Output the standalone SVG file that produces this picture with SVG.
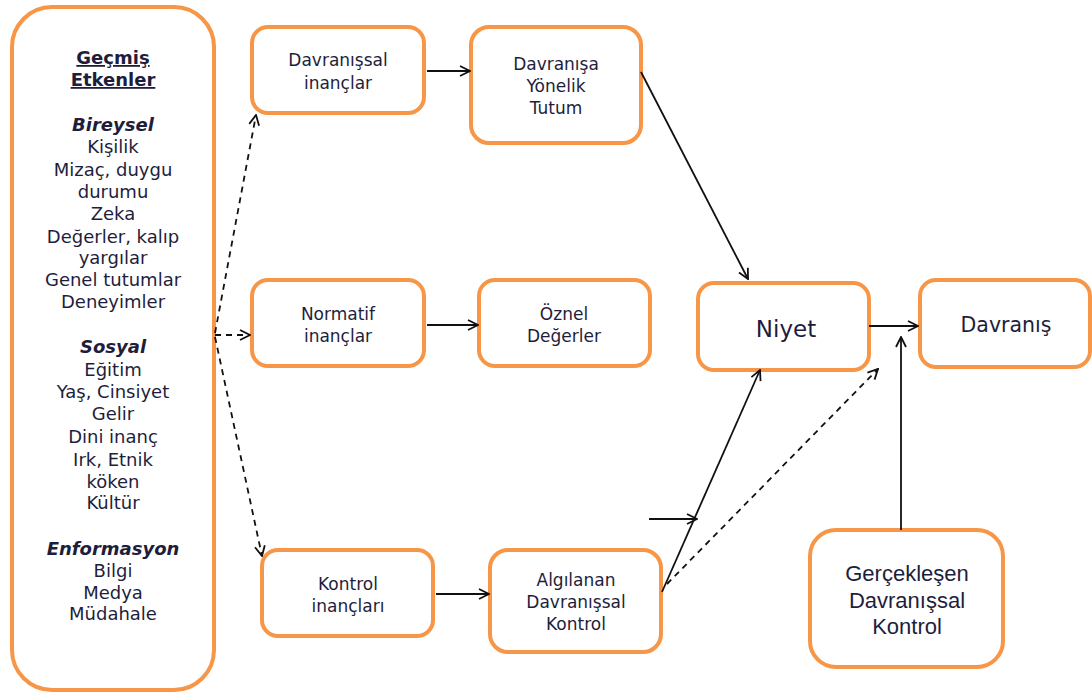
<svg xmlns="http://www.w3.org/2000/svg" width="1092" height="693" viewBox="0 0 1092 693">
<defs>
<style>
.box{fill:#fff;stroke:#F79646;stroke-width:4}
.t{font-family:"DejaVu Sans",Verdana,sans-serif;font-size:17px;fill:#1e1e3c;text-anchor:middle}
.l{font-family:"DejaVu Sans",Verdana,sans-serif;font-size:18px;fill:#1e1e3c;text-anchor:middle}
.h{font-weight:bold;text-decoration:underline}
.i{font-weight:bold;font-style:italic}
.a{font-family:"Liberation Sans",Arial,sans-serif;font-size:22px;fill:#1e1e3c;text-anchor:middle}
.c{stroke:#111;stroke-width:1.8;fill:none;marker-end:url(#ar)}
.d{stroke:#111;stroke-width:1.8;fill:none;stroke-dasharray:6,5;marker-end:url(#ar)}
</style>
<marker id="ar" markerWidth="12" markerHeight="12" refX="11" refY="6" orient="auto" markerUnits="userSpaceOnUse"><path d="M1,1 L11,6 L1,11" fill="none" stroke="#111" stroke-width="1.8"/></marker>
</defs>
<rect width="1092" height="693" fill="#fff"/>
<g id="gecmis">
<rect class="box" x="12" y="7" width="202" height="683" rx="40"/>
<text class="l h" x="113" y="64">Geçmiş</text>
<text class="l h" x="113" y="86">Etkenler</text>
<text class="l i" x="113" y="131">Bireysel</text>
<text class="l" x="113" y="153">Kişilik</text>
<text class="l" x="113" y="176">Mizaç, duygu</text>
<text class="l" x="113" y="198">durumu</text>
<text class="l" x="113" y="220">Zeka</text>
<text class="l" x="113" y="243">Değerler, kalıp</text>
<text class="l" x="113" y="264">yargılar</text>
<text class="l" x="113" y="286">Genel tutumlar</text>
<text class="l" x="113" y="308">Deneyimler</text>
<text class="l i" x="113" y="353">Sosyal</text>
<text class="l" x="113" y="376">Eğitim</text>
<text class="l" x="113" y="398">Yaş, Cinsiyet</text>
<text class="l" x="113" y="420">Gelir</text>
<text class="l" x="113" y="443">Dini inanç</text>
<text class="l" x="113" y="466">Irk, Etnik</text>
<text class="l" x="113" y="488">köken</text>
<text class="l" x="113" y="509">Kültür</text>
<text class="l i" x="113" y="555">Enformasyon</text>
<text class="l" x="113" y="577">Bilgi</text>
<text class="l" x="113" y="599">Medya</text>
<text class="l" x="113" y="620">Müdahale</text>
</g>
<g id="davranissal-inanclar">
<rect class="box" x="252" y="27" width="172" height="86" rx="16"/>
<text class="t" x="338" y="66">Davranışsal</text>
<text class="t" x="338" y="89">inançlar</text>
</g>
<g id="tutum">
<rect class="box" x="471" y="27" width="170" height="116" rx="18"/>
<text class="t" x="556" y="70">Davranışa</text>
<text class="t" x="556" y="92">Yönelik</text>
<text class="t" x="556" y="114">Tutum</text>
</g>
<g id="normatif">
<rect class="box" x="252" y="280" width="172" height="86" rx="16"/>
<text class="t" x="338" y="320">Normatif</text>
<text class="t" x="338" y="342">inançlar</text>
</g>
<g id="oznel">
<rect class="box" x="479" y="280" width="171" height="86" rx="16"/>
<text class="t" x="564" y="320">Öznel</text>
<text class="t" x="564" y="342">Değerler</text>
</g>
<g id="kontrol-inanclari">
<rect class="box" x="262" y="550" width="171" height="86" rx="16"/>
<text class="t" x="348" y="590">Kontrol</text>
<text class="t" x="348" y="612">inançları</text>
</g>
<g id="algilanan">
<rect class="box" x="490" y="550" width="171" height="102" rx="18"/>
<text class="t" x="576" y="586">Algılanan</text>
<text class="t" x="576" y="608">Davranışsal</text>
<text class="t" x="576" y="630">Kontrol</text>
</g>
<g id="niyet">
<rect class="box" x="698" y="283" width="171" height="87" rx="16"/>
<text class="t" x="786" y="337" style="font-size:23px">Niyet</text>
</g>
<g id="davranis">
<rect class="box" x="920" y="280" width="170" height="87" rx="16"/>
<text class="t" x="1006" y="332" style="font-size:20.5px">Davranış</text>
</g>
<g id="gerceklesen">
<rect class="box" x="810" y="530" width="193" height="137" rx="26"/>
<text class="a" x="907" y="581">Gerçekleşen</text>
<text class="a" x="907" y="608">Davranışsal</text>
<text class="a" x="907" y="634">Kontrol</text>
</g>
<g id="connectors">
<path class="d" d="M215,333 L256,115"/>
<path class="d" d="M215,335 L250,335"/>
<path class="d" d="M215,337 L262,556"/>
<path class="c" d="M427,71 L470,71"/>
<path class="c" d="M427,325 L478,325"/>
<path class="c" d="M436,594 L489,594"/>
<path class="c" d="M641,72 L748,279"/>
<path class="c" d="M662,592 L760,370"/>
<path class="c" d="M649,519 L697,519"/>
<path class="d" d="M667,584 L878,369"/>
<path class="c" d="M869,326 L918,326"/>
<path class="c" d="M901,530 L901,337"/>
</g>
</svg>
